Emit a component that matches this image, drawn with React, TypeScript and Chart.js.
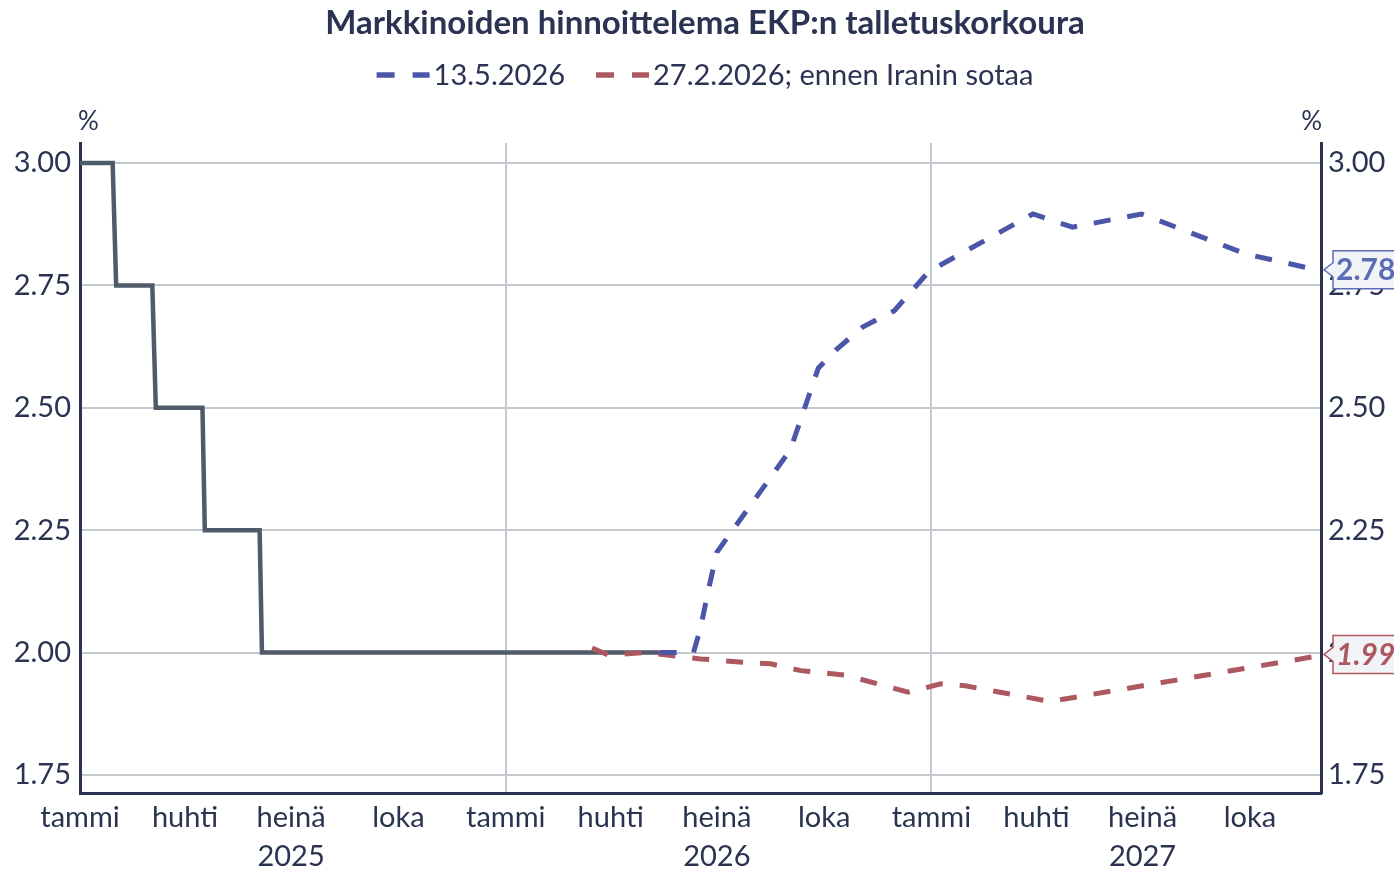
import React, { useEffect, useRef } from 'react';
import { Chart, registerables } from 'chart.js';

Chart.register(...registerables);

// ---------- data ----------
const TITLE = 'Markkinoiden hinnoittelema EKP:n talletuskorkoura';
const UNIT = '%';

const X_START = '2025-01-01';
const X_END = '2027-12-01';

const xTickDates = [
  '2025-01-01', '2025-04-01', '2025-07-01', '2025-10-01',
  '2026-01-01', '2026-04-01', '2026-07-01', '2026-10-01',
  '2027-01-01', '2027-04-01', '2027-07-01', '2027-10-01',
];
const xTickLabels = [
  'tammi', 'huhti', 'heinä', 'loka',
  'tammi', 'huhti', 'heinä', 'loka',
  'tammi', 'huhti', 'heinä', 'loka',
];
const xYearLabels = ['', '', '2025', '', '', '', '2026', '', '', '', '2027', ''];

const Y_MIN = 1.713;
const Y_MAX = 3.041;
const yTicks = [1.75, 2.0, 2.25, 2.5, 2.75, 3.0];

const histLabel = 'Toteutunut';
const histDates = [
  '2025-01-01', '2025-01-29', '2025-02-01', '2025-03-04', '2025-03-07',
  '2025-04-16', '2025-04-18', '2025-06-04', '2025-06-06', '2026-05-13',
];
const histValues = [3.0, 3.0, 2.75, 2.75, 2.5, 2.5, 2.25, 2.25, 2.0, 2.0];

const blueLabel = '13.5.2026';
const blueDates = [
  '2026-05-13', '2026-06-11', '2026-06-17', '2026-06-24', '2026-07-01',
  '2026-09-02', '2026-09-26', '2026-10-11', '2026-11-03', '2026-11-30',
  '2026-12-30', '2027-03-29', '2027-05-02', '2027-06-30', '2027-09-28',
  '2027-12-01',
];
const blueValues = [
  2.0, 2.0, 2.05, 2.13, 2.205,
  2.414, 2.581, 2.618, 2.665, 2.698,
  2.779, 2.896, 2.869, 2.896, 2.814,
  2.78,
];

const redLabel = '27.2.2026; ennen Iranin sotaa';
const redDates = [
  '2026-03-16', '2026-03-30', '2026-05-01', '2026-06-17', '2026-07-30',
  '2026-08-16', '2026-09-11', '2026-10-19', '2026-12-12', '2027-01-09',
  '2027-01-30', '2027-04-13', '2027-12-01',
];
const redValues = [
  2.009, 1.995, 2.0, 1.987, 1.979,
  1.977, 1.963, 1.954, 1.919, 1.936,
  1.932, 1.9, 1.994,
];

// ---------- style ----------
const FONT = 'Lato';
const TEXT = '#2a3352';
const GRID = '#c6c8d0';
const BLUE = '#4b56a8';
const BLUE_LABEL = '#5a6cb6';
const RED = '#ad5860';
const DARK = '#4f5a6a';
const LABEL_BG = '#f2f3f7';

const ts = (d: string) => Date.parse(d + 'T00:00:00Z');
const toPoints = (dates: string[], vals: number[]) =>
  dates.map((d, i) => ({ x: ts(d), y: vals[i] }));

const decorPlugin = {
  id: 'decor',
  afterDraw(chart: any) {
    const ctx = chart.ctx as CanvasRenderingContext2D;
    const area = chart.chartArea;
    const cx = 705;
    ctx.save();

    // title
    ctx.fillStyle = TEXT;
    ctx.font = `bold 33px ${FONT}`;
    ctx.textAlign = 'center';
    ctx.textBaseline = 'middle';
    ctx.fillText(TITLE, cx, 23);

    // legend
    ctx.font = `29px ${FONT}`;
    const legendSets = chart.data.datasets.filter((d: any) => d.inLegend);
    const swW = 53;
    const swGap = 4;
    const itemGap = 31;
    const widths = legendSets.map((d: any) => swW + swGap + ctx.measureText(d.label).width);
    const total = widths.reduce((a: number, b: number) => a + b, 0) + itemGap * (widths.length - 1);
    let lx = cx - total / 2;
    const ly = 75;
    legendSets.forEach((d: any, i: number) => {
      ctx.save();
      ctx.strokeStyle = d.borderColor;
      ctx.lineWidth = 5.5;
      ctx.lineCap = 'butt';
      ctx.setLineDash([18, 18]);
      ctx.beginPath();
      ctx.moveTo(lx, ly);
      ctx.lineTo(lx + swW, ly);
      ctx.stroke();
      ctx.restore();
      ctx.fillStyle = TEXT;
      ctx.textAlign = 'left';
      ctx.fillText(d.label, lx + swW + swGap, ly + 1);
      lx += widths[i] + itemGap;
    });

    // unit labels
    ctx.font = `26px ${FONT}`;
    ctx.textBaseline = 'middle';
    ctx.textAlign = 'left';
    ctx.fillText(UNIT, area.left - 2, 122);
    ctx.textAlign = 'right';
    ctx.fillText(UNIT, area.right + 1, 122);

    // end labels
    chart.data.datasets.forEach((d: any, i: number) => {
      if (!d.endLabel) return;
      const meta = chart.getDatasetMeta(i);
      const pt = meta.data[meta.data.length - 1];
      const yc = pt.y - 1;
      const x0 = area.right + 12;
      const tip = area.right + 3;
      const h = 38;
      const w = 80;
      ctx.beginPath();
      ctx.moveTo(x0, yc - h / 2);
      ctx.lineTo(x0 + w, yc - h / 2);
      ctx.lineTo(x0 + w, yc + h / 2);
      ctx.lineTo(x0, yc + h / 2);
      ctx.lineTo(x0, yc + 7);
      ctx.lineTo(tip, yc);
      ctx.lineTo(x0, yc - 7);
      ctx.closePath();
      ctx.fillStyle = LABEL_BG;
      ctx.fill();
      ctx.strokeStyle = d.endLabelColor;
      ctx.lineWidth = 1.5;
      ctx.stroke();
      ctx.fillStyle = d.endLabelColor;
      ctx.font = `${d.endLabelItalic ? 'italic ' : ''}bold 30px ${FONT}`;
      ctx.textAlign = 'left';
      ctx.textBaseline = 'middle';
      const v = d.data[d.data.length - 1].y;
      ctx.fillText(v.toFixed(2), x0 + 3, yc + 1);
    });
    ctx.restore();
  },
};

export default function App() {
  const ref = useRef<HTMLCanvasElement | null>(null);

  useEffect(() => {
    if (!ref.current) return;
    const tickFont = { family: FONT, size: 29, lineHeight: 1.345 };
    const yAxisCommon = {
      min: Y_MIN,
      max: Y_MAX,
      afterBuildTicks: (s: any) => {
        s.ticks = yTicks.map((v) => ({ value: v }));
      },
      ticks: {
        color: TEXT,
        font: tickFont,
        padding: 9,
        callback: (v: any) => Number(v).toFixed(2),
      },
      border: { display: true, color: TEXT, width: 3 },
    };
    const chart = new Chart(ref.current, {
      type: 'line',
      data: {
        datasets: [
          {
            label: blueLabel,
            data: toPoints(blueDates, blueValues),
            borderColor: BLUE,
            backgroundColor: BLUE,
            borderWidth: 5,
            borderDash: [17, 17],
            borderCapStyle: 'butt',
            pointRadius: 0,
            tension: 0,
            inLegend: true,
            endLabel: true,
            endLabelItalic: false,
            endLabelColor: BLUE_LABEL,
          } as any,
          {
            label: redLabel,
            data: toPoints(redDates, redValues),
            borderColor: RED,
            backgroundColor: RED,
            borderWidth: 5,
            borderDash: [17, 17],
            borderCapStyle: 'butt',
            pointRadius: 0,
            tension: 0,
            inLegend: true,
            endLabel: true,
            endLabelItalic: true,
            endLabelColor: RED,
          } as any,
          {
            label: histLabel,
            data: toPoints(histDates, histValues),
            borderColor: DARK,
            backgroundColor: DARK,
            borderWidth: 4.5,
            pointRadius: 0,
            tension: 0,
          } as any,
        ],
      },
      options: {
        responsive: false,
        animation: false,
        devicePixelRatio: 1,
        layout: { padding: { top: 143, left: 0, right: 0, bottom: 0 } },
        plugins: {
          legend: { display: false },
          title: { display: false },
          tooltip: { enabled: false },
        },
        scales: {
          x: {
            type: 'linear',
            min: ts(X_START),
            max: ts(X_END),
            afterBuildTicks: (s: any) => {
              s.ticks = xTickDates.map((d) => ({ value: ts(d) }));
            },
            afterFit: (s: any) => {
              s.height = 79;
            },
            ticks: {
              autoSkip: false,
              maxRotation: 0,
              color: TEXT,
              font: tickFont,
              padding: 5,
              callback: (_v: any, i: number) =>
                xYearLabels[i] ? [xTickLabels[i], xYearLabels[i]] : xTickLabels[i],
            },
            grid: {
              drawTicks: false,
              lineWidth: 2,
              color: (c: any) => (c.index % 4 === 0 ? GRID : 'rgba(0,0,0,0)'),
            },
            border: { display: true, color: TEXT, width: 3 },
          },
          y: {
            ...yAxisCommon,
            position: 'left',
            afterFit: (s: any) => {
              s.width = 80;
            },
            grid: { drawTicks: false, color: GRID, lineWidth: 2 },
          },
          y2: {
            ...yAxisCommon,
            position: 'right',
            ticks: { ...yAxisCommon.ticks, padding: 7 },
            afterFit: (s: any) => {
              s.width = 73;
            },
            grid: { display: false, drawTicks: false },
          },
        },
      } as any,
      plugins: [decorPlugin],
    });
    return () => chart.destroy();
  }, []);

  return (
    <div style={{ position: 'absolute', left: 0, top: 0, width: 1394, height: 872, background: '#fff' }}>
      <canvas ref={ref} width={1394} height={872} style={{ display: 'block' }} />
    </div>
  );
}
